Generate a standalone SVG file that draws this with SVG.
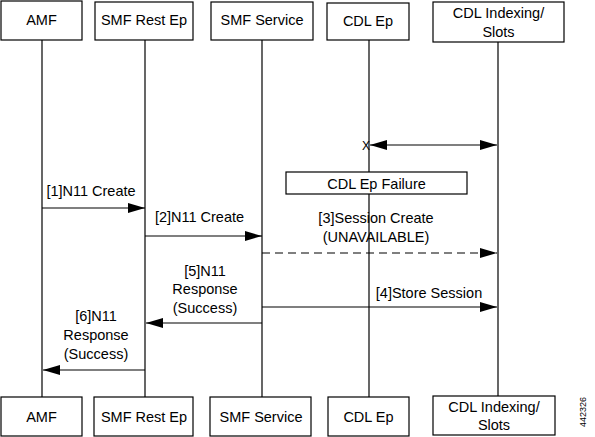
<svg xmlns="http://www.w3.org/2000/svg" width="595" height="437" viewBox="0 0 595 437">
<defs>
<style>
.box{fill:#fff;stroke:#000;stroke-width:1.2}
.t{font-family:"Liberation Sans",Arial,sans-serif;font-size:14.5px;fill:#000;text-anchor:middle;dominant-baseline:central}
.life{stroke:#000;stroke-width:1.2;fill:none}
.msg{stroke:#000;stroke-width:1.2;fill:none}
.dash{stroke-dasharray:8,5}
</style>
<marker id="ah" viewBox="0 0 17 10" refX="17" refY="5" markerWidth="17" markerHeight="10" markerUnits="userSpaceOnUse" orient="auto-start-reverse">
<path d="M0,0 L17,5 L0,10 Z" fill="#000"/>
</marker>
</defs>
<rect width="595" height="437" fill="#fff"/>
<g id="lifelines">
<line class="life" x1="42" y1="40" x2="42" y2="397"/>
<line class="life" x1="145" y1="40" x2="145" y2="397"/>
<line class="life" x1="262" y1="40" x2="262" y2="397"/>
<line class="life" x1="369" y1="40" x2="369" y2="397"/>
<line class="life" x1="498" y1="42" x2="498" y2="396"/>
</g>
<g id="amf-top"><rect class="box" x="1" y="1" width="81" height="39"/><text class="t" x="41.5" y="20">AMF</text></g>
<g id="smfrest-top"><rect class="box" x="95" y="2" width="98" height="38"/><text class="t" x="144" y="20">SMF Rest Ep</text></g>
<g id="smfsvc-top"><rect class="box" x="211" y="2" width="102" height="38"/><text class="t" x="262" y="20">SMF Service</text></g>
<g id="cdlep-top"><rect class="box" x="327" y="3" width="82" height="37"/><text class="t" x="368" y="21">CDL Ep</text></g>
<g id="cdlidx-top"><rect class="box" x="433" y="2" width="131" height="40"/><text class="t" x="498.5" y="13">CDL Indexing/</text><text class="t" x="498.5" y="32">Slots</text></g>
<g id="amf-bot"><rect class="box" x="1" y="397" width="81" height="39"/><text class="t" x="41.5" y="417">AMF</text></g>
<g id="smfrest-bot"><rect class="box" x="94" y="397" width="99" height="39"/><text class="t" x="144" y="417">SMF Rest Ep</text></g>
<g id="smfsvc-bot"><rect class="box" x="210" y="397" width="101" height="39"/><text class="t" x="261" y="417">SMF Service</text></g>
<g id="cdlep-bot"><rect class="box" x="328" y="397" width="81" height="39"/><text class="t" x="368.5" y="417">CDL Ep</text></g>
<g id="cdlidx-bot"><rect class="box" x="433" y="396" width="122" height="39"/><text class="t" x="494" y="407">CDL Indexing/</text><text class="t" x="494" y="425">Slots</text></g>
<g id="cdl-failure"><rect class="box" x="286" y="172" width="181" height="22"/><text class="t" x="376.5" y="183.5">CDL Ep Failure</text></g>
<g id="connectors">
<line class="msg" x1="370" y1="145" x2="497" y2="145" marker-start="url(#ah)" marker-end="url(#ah)"/>
<line class="msg" x1="42" y1="208" x2="145" y2="208" marker-end="url(#ah)"/>
<line class="msg" x1="145" y1="236" x2="262" y2="236" marker-end="url(#ah)"/>
<line class="msg dash" x1="262" y1="253" x2="497" y2="253" marker-end="url(#ah)"/>
<line class="msg" x1="262" y1="307" x2="497" y2="307" marker-end="url(#ah)"/>
<line class="msg" x1="262" y1="323" x2="146" y2="323" marker-end="url(#ah)"/>
<line class="msg" x1="145" y1="370" x2="43" y2="370" marker-end="url(#ah)"/>
</g>
<g id="labels">
<text class="t" x="366" y="146" style="font-size:12px">X</text>
<text class="t" x="91" y="191">[1]N11 Create</text>
<text class="t" x="199.5" y="217">[2]N11 Create</text>
<text class="t" x="376" y="218">[3]Session Create</text>
<text class="t" x="376" y="237">(UNAVAILABLE)</text>
<text class="t" x="429" y="293">[4]Store Session</text>
<text class="t" x="205" y="271">[5]N11</text>
<text class="t" x="205" y="289">Response</text>
<text class="t" x="205" y="308">(Success)</text>
<text class="t" x="96" y="316">[6]N11</text>
<text class="t" x="96" y="335">Response</text>
<text class="t" x="96" y="354">(Success)</text>
<text class="t" x="583" y="412" transform="rotate(-90 583 412)" style="font-size:9px">442326</text>
</g>
</svg>
